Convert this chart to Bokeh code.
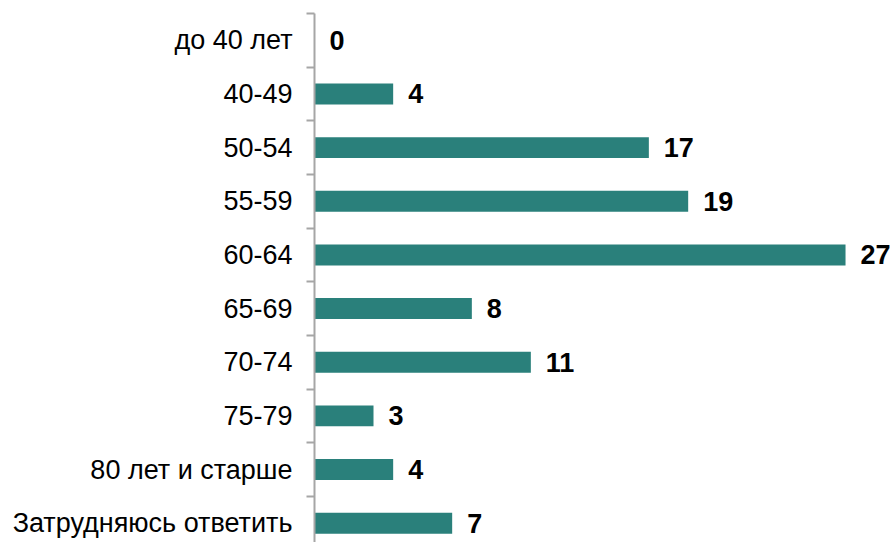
from bokeh.plotting import figure
from bokeh.models import ColumnDataSource, FixedTicker, LabelSet, Range1d
from bokeh.core.properties import value
from bokeh.embed import file_html
from bokeh.resources import INLINE

categories = ["до 40 лет", "40-49", "50-54", "55-59", "60-64", "65-69",
              "70-74", "75-79", "80 лет и старше", "Затрудняюсь ответить"]
values = [0, 4, 17, 19, 27, 8, 11, 3, 4, 7]

ypos = list(range(len(categories)))
source = ColumnDataSource(dict(y=ypos, v=values, lbl=[str(v) for v in values]))

p = figure(width=894, height=542, output_backend="svg", toolbar_location=None,
           x_range=Range1d(0, 29.49), y_range=Range1d(9.36, -0.5),
           x_axis_location=None, min_border_left=314, min_border_right=0,
           min_border_top=13, min_border_bottom=0)
p.outline_line_color = None
p.grid.visible = False
p.background_fill_color = "white"
p.border_fill_color = "white"

p.hbar(y="y", left=0, right="v", height=0.39, source=source,
       fill_color="#2A807B", line_color=None)

labels = LabelSet(x="v", y="y", text="lbl", source=source, x_offset=15,
                  text_baseline="middle", text_align="left",
                  text_font=value("Liberation Sans"), text_font_style="bold",
                  text_font_size=value("27px"), text_color="#000000")
p.add_layout(labels)

ax = p.yaxis[0]
ax.ticker = FixedTicker(ticks=ypos, minor_ticks=[i - 0.5 for i in range(len(categories) + 1)])
ax.major_label_overrides = {i: c for i, c in enumerate(categories)}
ax.major_tick_in = 0
ax.major_tick_out = 0
ax.major_tick_line_color = None
ax.minor_tick_in = 0
ax.minor_tick_out = 8
ax.minor_tick_line_color = "#A6A6A6"
ax.minor_tick_line_width = 2
ax.axis_line_color = "#A6A6A6"
ax.axis_line_width = 2
ax.major_label_standoff = 14
ax.major_label_text_font = "Liberation Sans"
ax.major_label_text_font_size = "27px"
ax.major_label_text_color = "#000000"

open("out.html", "w").write(file_html(p, INLINE))
